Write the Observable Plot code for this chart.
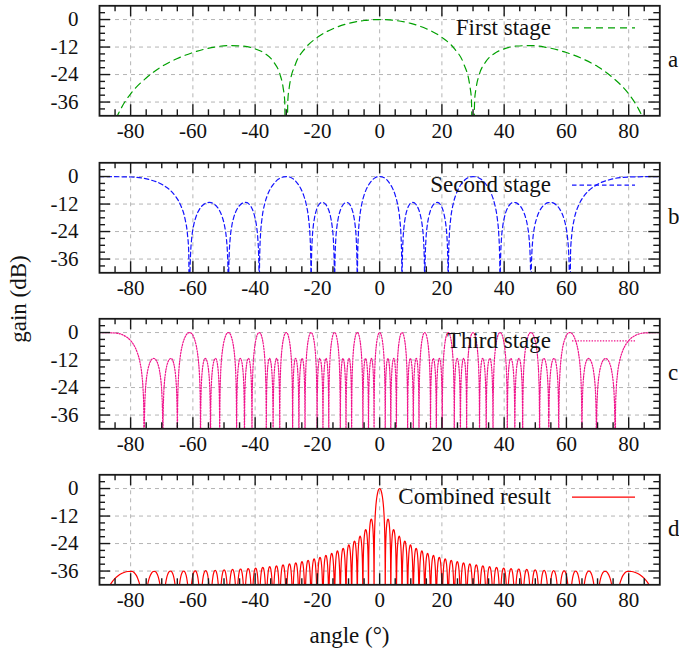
<!DOCTYPE html>
<html>
<head>
<meta charset="utf-8">
<script src="https://cdn.jsdelivr.net/npm/d3@7"></script>
<script src="https://cdn.jsdelivr.net/npm/@observablehq/plot@0.6"></script>
<style>
html, body { margin: 0; padding: 0; background: #fff; }
#chart { position: relative; width: 679px; height: 652px; overflow: hidden; background: #fff; }
#chart > svg { position: absolute; left: 0; }
#chart svg text { font-family: "Liberation Serif", "DejaVu Serif", serif; }
</style>
</head>
<body>
<div id="chart"></div>
<script>
// ---------------- axis ticks ----------------
const xMajorTicks = [-80, -60, -40, -20, 0, 20, 40, 60, 80];
const xMinorTicks = [-85, -75, -70, -65, -55, -50, -45, -35, -30, -25, -15, -10, -5,
                     5, 10, 15, 25, 30, 35, 45, 50, 55, 65, 70, 75, 85];
const yMajorTicks = [0, -12, -24, -36];
const yMinorTicks = [3, -3, -6, -9, -15, -18, -21, -27, -30, -33, -39];

const panelLetters = ["a", "b", "c", "d"];
const seriesNames = ["First stage", "Second stage", "Third stage", "Combined result"];

// ---------------- panel a : first stage (angle °, gain dB) ----------------
const firstStageAngle = [-90, -87, -85, -83, -80, -75, -70, -65, -60, -53, -48.6, -44, -40, -37, -34, -32, -31, -30.5, -30, -29.5, -29, -27, -24, -20, -15, -10, -5,
  0, 5, 10, 15, 20, 24, 27, 29, 29.5, 30, 30.5, 31, 32, 34, 37, 40, 44, 48.6, 53, 60, 65, 70, 75, 80, 83, 85, 87, 90];
const firstStageGain = [-100, -53, -44.4, -38.6, -32.4, -25.5, -20.5, -17.0, -14.4, -12.0, -11.35, -11.55, -12.8, -14.7, -18.6, -24.0, -29.8, -35.6, -100, -35.4, -29.2, -19.3, -12.7, -7.76, -4.0, -1.69, -0.41,
  0, -0.41, -1.69, -4.0, -7.76, -12.7, -19.3, -29.2, -35.4, -100, -35.6, -29.8, -24.0, -18.6, -14.7, -12.8, -11.55, -11.35, -12.0, -14.4, -17.0, -20.5, -25.5, -32.4, -38.6, -44.4, -53, -100];

// ---------------- panel b : second stage (nulls, lobe peaks) ----------------
const secondStageNulls = [-90, -61.04, -48.59, -38.68, -22.02, -14.48, -7.18, 7.18, 14.48, 22.02, 38.68, 48.59, 61.04, 90];
const secondStagePeakAngle = [-90, -54.76, -43.1, -30, -18.46, -10.56, 0, 10.56, 18.46, 30, 43.1, 54.76, 90];
const secondStagePeakGain = [0, -11.3, -11.3, 0, -11.3, -11.3, 0, -11.3, -11.3, 0, -11.3, -11.3, 0];

// ---------------- panel c : third stage ----------------
const thirdStageNulls = [-90, -75.64, -69.64, -64.98, -57.54, -54.34, -51.38, -45.95, -43.43, -41.01, -36.42, -34.23, -32.09,
  -27.95, -25.94, -23.97, -20.11, -18.21, -16.34, -12.64, -10.81, -8.99, -5.38, -3.58, -1.79,
  1.79, 3.58, 5.38, 8.99, 10.81, 12.64, 16.34, 18.21, 20.11, 23.97, 25.94, 27.95,
  32.09, 34.23, 36.42, 41.01, 43.43, 45.95, 51.38, 54.34, 57.54, 64.98, 69.64, 75.64, 90];
const thirdStagePeakAngle = [-90, -72.59, -67.05, -61.04, -56.01, -52.73, -48.59, -44.76, -42.13, -38.68, -35.39, -33.08, -30,
  -27.01, -24.88, -22.02, -19.22, -17.21, -14.48, -11.78, -9.84, -7.18, -4.54, -2.63, 0,
  2.63, 4.54, 7.18, 9.84, 11.78, 14.48, 17.21, 19.22, 22.02, 24.88, 27.01, 30,
  33.08, 35.39, 38.68, 42.13, 44.76, 48.59, 52.73, 56.01, 61.04, 67.05, 72.59, 90];
const thirdStagePeakGain = [0, -11.3, -11.3, 0, -11.3, -11.3, 0, -11.3, -11.3, 0, -11.3, -11.3, 0,
  -11.3, -11.3, 0, -11.3, -11.3, 0, -11.3, -11.3, 0, -11.3, -11.3, 0,
  -11.3, -11.3, 0, -11.3, -11.3, 0, -11.3, -11.3, 0, -11.3, -11.3, 0,
  -11.3, -11.3, 0, -11.3, -11.3, 0, -11.3, -11.3, 0, -11.3, -11.3, 0];

// ---------------- panel d : combined result ----------------
const combinedNulls = [-90, -75.64, -69.64, -64.98, -61.04, -57.54, -54.34, -51.38, -48.59, -45.95, -43.43, -41.01, -38.68,
  -36.42, -34.23, -32.09, -30, -27.95, -25.94, -23.97, -22.02, -20.11, -18.21, -16.34, -14.48, -12.64, -10.81, -8.99,
  -7.18, -5.38, -3.58, -1.79, 1.79, 3.58, 5.38, 7.18, 8.99, 10.81, 12.64, 14.48, 16.34, 18.21, 20.11, 22.02, 23.97,
  25.94, 27.95, 30, 32.09, 34.23, 36.42, 38.68, 41.01, 43.43, 45.95, 48.59, 51.38, 54.34, 57.54, 61.04, 64.98, 69.64, 75.64, 90];
const combinedPeakAngle = [-79.86, -72.39, -67.2, -62.95, -59.25, -55.9, -52.83, -49.96, -47.25, -44.68, -42.21, -39.84, -37.54,
  -35.32, -33.15, -31.04, -28.97, -26.94, -24.95, -22.99, -21.06, -19.16, -17.27, -15.4, -13.56, -11.72, -9.9, -8.08,
  -6.28, -4.48, -2.69, 0, 2.69, 4.48, 6.28, 8.08, 9.9, 11.72, 13.56, 15.4, 17.27, 19.16, 21.06, 22.99, 24.95, 26.94,
  28.97, 31.04, 33.15, 35.32, 37.54, 39.84, 42.21, 44.68, 47.25, 49.96, 52.83, 55.9, 59.25, 62.95, 67.2, 72.39, 79.86];
const combinedPeakGain = [-36.1, -36.1, -36.0, -36.0, -35.9, -35.8, -35.7, -35.5, -35.3, -35.1, -34.9, -34.7, -34.4,
  -34.1, -33.7, -33.3, -32.9, -32.4, -31.9, -31.3, -30.7, -30.0, -29.2, -28.3, -27.2, -26.1, -24.6, -22.9,
  -20.8, -17.9, -13.3, 0, -13.3, -17.9, -20.8, -22.9, -24.6, -26.1, -27.2, -28.3, -29.2, -30.0, -30.7, -31.3, -31.9, -32.4,
  -32.9, -33.3, -33.7, -34.1, -34.4, -34.7, -34.9, -35.1, -35.3, -35.5, -35.7, -35.8, -35.9, -36.0, -36.0, -36.1, -36.1];

// ---------------- lobe outlines (dB below lobe peak) ----------------
const nullGain = -100; // nulls fall far below the frame
const lobeFrac = [0.01, 0.02, 0.05, 0.1, 0.2, 0.3, 0.4, 0.5, 0.6, 0.7, 0.8, 0.9, 1];
const mainLobeShape = [-39, -33, -24.8, -18.5, -12.0, -8.2, -5.6, -3.7, -2.3, -1.2, -0.5, -0.13, 0];
const sideLobeShape = [-36.1, -30.0, -22.1, -16.1, -10.2, -6.9, -4.6, -3.0, -1.8, -1.0, -0.4, -0.1, 0];
const edgeLobeFrac = [0.01, 0.025, 0.05, 0.1, 0.15, 0.2, 0.3, 0.45, 0.65, 1];
const edgeLobeShape = [-33.1, -24.9, -18.7, -12.5, -9.0, -6.6, -3.6, -1.3, -0.2, 0];

// table builder: one row per outline point
function lobeTable(nulls, peakAngle, peakGain) {
  const rows = [];
  for (let i = 0; i < peakAngle.length; i++) {
    const L = nulls[i], R = nulls[i + 1], P = peakAngle[i], g = peakGain[i];
    const edge = P === L || P === R;
    const frac = edge ? edgeLobeFrac : lobeFrac;
    const shape = edge ? edgeLobeShape : (g === 0 ? mainLobeShape : sideLobeShape);
    if (P > L) for (let j = 0; j < frac.length - 1; j++) rows.push({angle: L + frac[j] * (P - L), gain: g + shape[j]});
    rows.push({angle: P, gain: g});
    if (R > P) for (let j = frac.length - 2; j >= 0; j--) rows.push({angle: R - frac[j] * (R - P), gain: g + shape[j]});
  }
  for (const n of nulls) if (!peakAngle.includes(n)) rows.push({angle: n, gain: nullGain});
  return rows.sort((a, b) => a.angle - b.angle);
}

const firstRows = firstStageAngle.map((a, i) => ({angle: a, gain: firstStageGain[i]}));
const secondRows = lobeTable(secondStageNulls, secondStagePeakAngle, secondStagePeakGain);
const thirdRows = lobeTable(thirdStageNulls, thirdStagePeakAngle, thirdStagePeakGain);
const combinedRows = lobeTable(combinedNulls, combinedPeakAngle, combinedPeakGain);

// ---------------- styling ----------------
const panels = [
  {rows: firstRows, stroke: "#00a000", dash: "7,5", width: 1.2},
  {rows: secondRows, stroke: "#1414ff", dash: "4.5,3", width: 1.2},
  {rows: thirdRows, stroke: "#f0148c", dash: "1.4,1.4", width: 1.2},
  {rows: combinedRows, stroke: "#ff0000", dash: null, width: 1.2}
];
const svgTops = [0, 157.4, 313, 469.4];
const W = 679, H = 157, mL = 99, mR = 19.7, mT = 5.3, mB = 41.7;
const frameW = W - mL - mR, frameH = H - mT - mB;
const ink = "#1a1a1a", gridColor = "#b4b4b4";
const font = "Liberation Serif";

const chart = document.getElementById("chart");

panels.forEach((p, i) => {
  const lineOpts = {x: "angle", y: "gain", stroke: p.stroke, strokeWidth: p.width, curve: "monotone-x", clip: true};
  if (p.dash) lineOpts.strokeDasharray = p.dash;
  const svg = Plot.plot({
    width: W, height: H,
    marginLeft: mL, marginRight: mR, marginTop: mT, marginBottom: mB,
    x: {domain: [-90, 90], axis: null},
    y: {domain: [-42, 6], axis: null},
    style: {fontFamily: font, fontSize: "21px", background: "transparent", color: "#111"},
    marks: [
      Plot.gridX(xMajorTicks, {stroke: gridColor, strokeOpacity: 1, strokeWidth: 1, strokeDasharray: "4,4"}),
      Plot.gridY(yMajorTicks, {stroke: gridColor, strokeOpacity: 1, strokeWidth: 1, strokeDasharray: "4,4"}),
      Plot.line(p.rows, lineOpts),
      Plot.frame({stroke: ink, strokeWidth: 1.8}),
      Plot.ruleX(xMajorTicks, {x: d => d, insetTop: frameH - 11, stroke: ink, strokeWidth: 1.4}),
      Plot.ruleX(xMajorTicks, {x: d => d, insetBottom: frameH - 11, stroke: ink, strokeWidth: 1.4}),
      Plot.ruleX(xMinorTicks, {x: d => d, insetTop: frameH - 6, stroke: ink, strokeWidth: 1.4}),
      Plot.ruleX(xMinorTicks, {x: d => d, insetBottom: frameH - 6, stroke: ink, strokeWidth: 1.4}),
      Plot.ruleY(yMajorTicks, {y: d => d, insetRight: frameW - 11, stroke: ink, strokeWidth: 1.4}),
      Plot.ruleY(yMajorTicks, {y: d => d, insetLeft: frameW - 11, stroke: ink, strokeWidth: 1.4}),
      Plot.ruleY(yMinorTicks, {y: d => d, insetRight: frameW - 6, stroke: ink, strokeWidth: 1.4}),
      Plot.ruleY(yMinorTicks, {y: d => d, insetLeft: frameW - 6, stroke: ink, strokeWidth: 1.4}),
      Plot.text(xMajorTicks, {x: d => d, frameAnchor: "bottom", dy: 22, text: d => String(d), fontSize: 21, fontFamily: font, fill: "#111"}),
      Plot.text(yMajorTicks, {y: d => d, frameAnchor: "left", dx: -21, textAnchor: "end", text: d => String(d), fontSize: 21, fontFamily: font, fill: "#111"})
    ]
  });
  svg.style.position = "absolute";
  svg.style.top = svgTops[i] + "px";
  svg.style.left = "0px";
  chart.appendChild(svg);
});

// ---------------- legends, panel letters and axis titles ----------------
const overlay = d3.create("svg")
  .attr("width", W).attr("height", 652)
  .style("position", "absolute").style("left", "0px").style("top", "0px")
  .style("pointer-events", "none");

panels.forEach((p, i) => {
  const T = svgTops[i] + mT;
  overlay.append("text").attr("x", 551).attr("y", T + 29.5).attr("text-anchor", "end")
    .attr("font-size", 23).attr("fill", "#111").text(seriesNames[i]);
  const ln = overlay.append("line").attr("x1", 572).attr("x2", 635).attr("y1", T + 22.5).attr("y2", T + 22.5)
    .attr("stroke", p.stroke).attr("stroke-width", p.width);
  if (p.dash) ln.attr("stroke-dasharray", p.dash);
  overlay.append("text").attr("x", 668).attr("y", T + frameH / 2 + 6.5)
    .attr("font-size", 23).attr("fill", "#111").text(panelLetters[i]);
});

overlay.append("text").attr("transform", "translate(26,299) rotate(-90)").attr("text-anchor", "middle")
  .attr("font-size", 23).attr("fill", "#111").text("gain (dB)");
overlay.append("text").attr("x", 349.5).attr("y", 643).attr("text-anchor", "middle")
  .attr("font-size", 23).attr("fill", "#111").text("angle (°)");

chart.appendChild(overlay.node());
</script>
</body>
</html>
